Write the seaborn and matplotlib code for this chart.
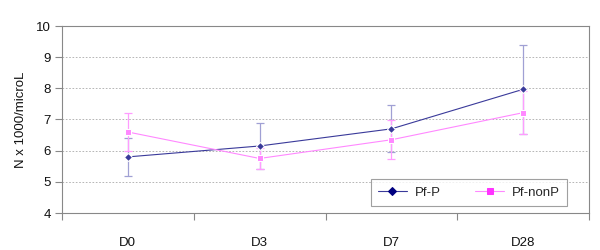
import pandas as pd
import numpy as np
import matplotlib.pyplot as plt
import seaborn as sns

days = ['D0', 'D3', 'D7', 'D28']
pf_p = [5.8, 6.15, 6.7, 7.97]
pf_p_err = [0.6, 0.75, 0.75, 1.42]
pf_nonp = [6.6, 5.75, 6.35, 7.22]
pf_nonp_err = [0.6, 0.35, 0.62, 0.7]

df = pd.DataFrame({
    'Day': days * 2,
    'N': pf_p + pf_nonp,
    'Group': ['Pf-P'] * 4 + ['Pf-nonP'] * 4,
})

sns.set_theme(style="white")
plt.rcParams['font.family'] = ['Liberation Sans', 'DejaVu Sans']

fig = plt.figure(figsize=(6, 2.5), dpi=100)
ax = fig.add_axes([0.103, 0.148, 0.879, 0.748])

colors = {'Pf-P': '#000080', 'Pf-nonP': '#FF33FF'}
line_colors = {'Pf-P': '#3A3A9A', 'Pf-nonP': '#FF88FF'}
err_colors = {'Pf-P': '#A0A0D4', 'Pf-nonP': '#FF9CFF'}
markers = {'Pf-P': 'D', 'Pf-nonP': 's'}

x = np.arange(len(days))
for grp, vals, errs in [('Pf-P', pf_p, pf_p_err), ('Pf-nonP', pf_nonp, pf_nonp_err)]:
    ax.errorbar(x, vals, yerr=errs, fmt='none', ecolor=err_colors[grp],
                elinewidth=0.9, capsize=3.2, capthick=0.9, zorder=2)

sns.lineplot(data=df, x='Day', y='N', hue='Group', style='Group',
             palette=line_colors, markers=markers, dashes=False,
             linewidth=0.8, markersize=4.5, ax=ax, zorder=3)
for line, grp in zip(ax.lines[-2:], ['Pf-P', 'Pf-nonP']):
    line.set_markerfacecolor(colors[grp])
    line.set_markeredgecolor(colors[grp])

ax.set_xlim(-0.5, 3.5)
ax.set_ylim(4, 10)
ax.set_yticks(range(4, 11))
ax.set_xticks(x)
ax.set_xticklabels(days)
ax.set_xticks(np.arange(-0.5, 4, 1), minor=True)
ax.tick_params(axis='x', which='major', length=0, pad=17, labelsize=9.5, colors='#111111')
ax.tick_params(axis='x', which='minor', length=5, width=0.8, color='#888888', bottom=True)
ax.tick_params(axis='y', length=5, width=0.8, left=True, labelsize=9.5,
               pad=3, colors='#111111')
ax.tick_params(axis='y', color='#888888')

ax.set_xlabel('')
ax.set_ylabel('N x 1000/microL', fontsize=9.5, labelpad=6, color='#111111')

for y in range(5, 10):
    ax.axhline(y, color='#AAAAAA', linestyle=(0, (2, 2)), linewidth=0.6, zorder=1)
for s in ax.spines.values():
    s.set_color('#888888')
    s.set_linewidth(0.8)

handles, labels = ax.get_legend_handles_labels()
leg = ax.legend(handles, labels, ncol=2, loc='lower right',
                bbox_to_anchor=(0.966, 0.015), fontsize=9.5, frameon=True,
                fancybox=False, edgecolor='#888888', handlelength=2.2,
                handletextpad=0.6, columnspacing=2.6, borderpad=0.55,
                borderaxespad=0.3)
leg.get_frame().set_linewidth(0.8)

fig.savefig('out.png', dpi=100)
